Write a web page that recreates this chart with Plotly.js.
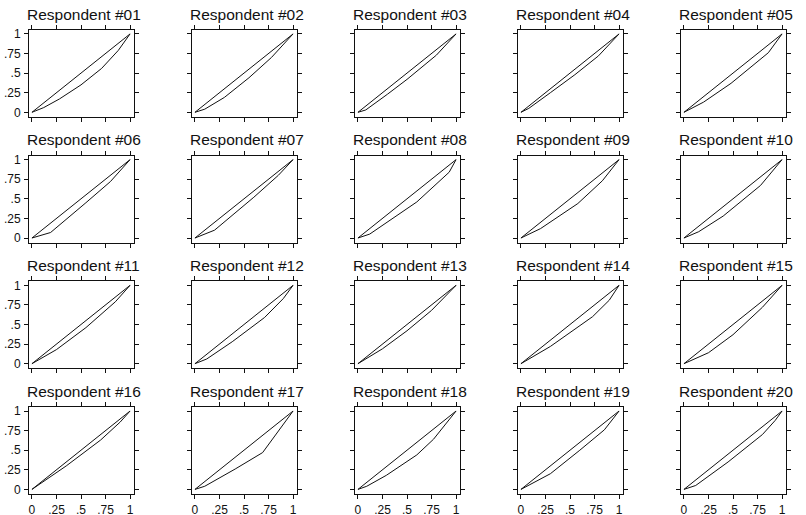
<!DOCTYPE html>
<html>
<head>
<meta charset="utf-8">
<script src="https://cdn.plot.ly/plotly-3.0.1.min.js"></script>
<style>html,body{margin:0;padding:0;background:#fff}#chart{width:806px;height:515px}</style>
</head>
<body>
<div id="chart"></div>
<script>
// Respondent labels
const respondents = ["#01","#02","#03","#04","#05","#06","#07","#08","#09","#10",
                     "#11","#12","#13","#14","#15","#16","#17","#18","#19","#20"];
// Tick labels
const tickValues = [0, 0.25, 0.5, 0.75, 1];
const tickLabels = ["0", ".25", ".5", ".75", "1"];
// Equality (diagonal) line
const diagX = [0, 1];
const diagY = [0, 1];
// Curve x values (cumulative share) per respondent
const curveX = [
  [0, 0.12, 0.28, 0.50, 0.71, 0.88, 1],
  [0, 0.10, 0.30, 0.55, 0.78, 1],
  [0, 0.08, 0.30, 0.50, 0.80, 1],
  [0, 0.08, 0.30, 0.55, 0.79, 1],
  [0, 0.20, 0.48, 0.86, 1],
  [0, 0.19, 0.55, 0.80, 1],
  [0, 0.20, 0.60, 0.85, 1],
  [0, 0.12, 0.60, 0.93, 1],
  [0, 0.20, 0.58, 0.83, 1],
  [0, 0.15, 0.40, 0.78, 1],
  [0, 0.25, 0.55, 0.85, 1],
  [0, 0.12, 0.38, 0.71, 0.90, 1],
  [0, 0.25, 0.50, 0.75, 1],
  [0, 0.30, 0.73, 0.90, 1],
  [0, 0.25, 0.50, 0.80, 1],
  [0, 0.35, 0.70, 0.90, 1],
  [0, 0.10, 0.41, 0.69, 1],
  [0, 0.09, 0.29, 0.60, 0.77, 1],
  [0, 0.30, 0.60, 0.85, 1],
  [0, 0.12, 0.45, 0.80, 0.93, 1]
];
// Curve y values per respondent
const curveY = [
  [0, 0.06, 0.17, 0.35, 0.56, 0.79, 1],
  [0, 0.04, 0.19, 0.44, 0.70, 1],
  [0, 0.03, 0.23, 0.42, 0.73, 1],
  [0, 0.05, 0.25, 0.48, 0.72, 1],
  [0, 0.13, 0.37, 0.76, 1],
  [0, 0.07, 0.45, 0.72, 1],
  [0, 0.10, 0.52, 0.80, 1],
  [0, 0.05, 0.46, 0.84, 1],
  [0, 0.12, 0.44, 0.73, 1],
  [0, 0.08, 0.28, 0.67, 1],
  [0, 0.18, 0.46, 0.79, 1],
  [0, 0.06, 0.28, 0.59, 0.83, 1],
  [0, 0.19, 0.42, 0.68, 1],
  [0, 0.22, 0.60, 0.81, 1],
  [0, 0.14, 0.37, 0.72, 1],
  [0, 0.30, 0.63, 0.86, 1],
  [0, 0.04, 0.26, 0.47, 1],
  [0, 0.04, 0.18, 0.44, 0.64, 1],
  [0, 0.20, 0.50, 0.76, 1],
  [0, 0.05, 0.35, 0.70, 0.88, 1]
];

const W = 806, H = 515;
const nCols = 5, nRows = 4;
const colLeft0 = 29, colStep = 163, boxW = 105;
const rowTop0 = 30, rowStep = 125.7, boxH = 87;
const font = "Liberation Sans, Arial, sans-serif";

const data = [];
const layout = {
  width: W, height: H,
  margin: {l: 0, r: 0, t: 0, b: 0},
  paper_bgcolor: "#fff", plot_bgcolor: "#fff",
  showlegend: false,
  font: {family: font, color: "#111"},
  annotations: []
};

respondents.forEach((name, i) => {
  const r = Math.floor(i / nCols), c = i % nCols;
  const sfx = i === 0 ? "" : String(i + 1);
  const L = colLeft0 + colStep * c;
  const T = rowTop0 + rowStep * r;
  const xd = [L / W, (L + boxW) / W];
  const yd = [1 - (T + boxH) / H, 1 - T / H];
  const common = {
    showline: true, linecolor: "#111", linewidth: 1, mirror: "ticks",
    ticks: "outside", ticklen: 4, tickwidth: 1, tickcolor: "#111",
    tickmode: "array", tickvals: tickValues, ticktext: tickLabels,
    showgrid: false, zeroline: false, fixedrange: true,
    tickfont: {size: 12, family: font, color: "#111"}
  };
  layout["xaxis" + sfx] = Object.assign({}, common, {
    domain: xd, range: [-0.03, 1.04], anchor: "y" + sfx,
    showticklabels: r === nRows - 1
  });
  layout["yaxis" + sfx] = Object.assign({}, common, {
    domain: yd, range: [-0.06, 1.05], anchor: "x" + sfx,
    showticklabels: c === 0, ticklabelstandoff: 1
  });
  data.push({x: diagX, y: diagY, xaxis: "x" + sfx, yaxis: "y" + sfx,
    mode: "lines", line: {color: "#111", width: 1}, hoverinfo: "skip"});
  data.push({x: curveX[i], y: curveY[i], xaxis: "x" + sfx, yaxis: "y" + sfx,
    mode: "lines", line: {color: "#111", width: 1}, hoverinfo: "skip"});
  layout.annotations.push({
    text: "Respondent " + name, showarrow: false,
    xref: "paper", yref: "paper",
    x: (L + boxW / 2 + 2) / W, y: 1 - (T - 16) / H,
    xanchor: "center", yanchor: "middle",
    font: {size: 15.5, family: font, color: "#111"}
  });
});

Plotly.newPlot("chart", data, layout, {staticPlot: true});
</script>
</body>
</html>
